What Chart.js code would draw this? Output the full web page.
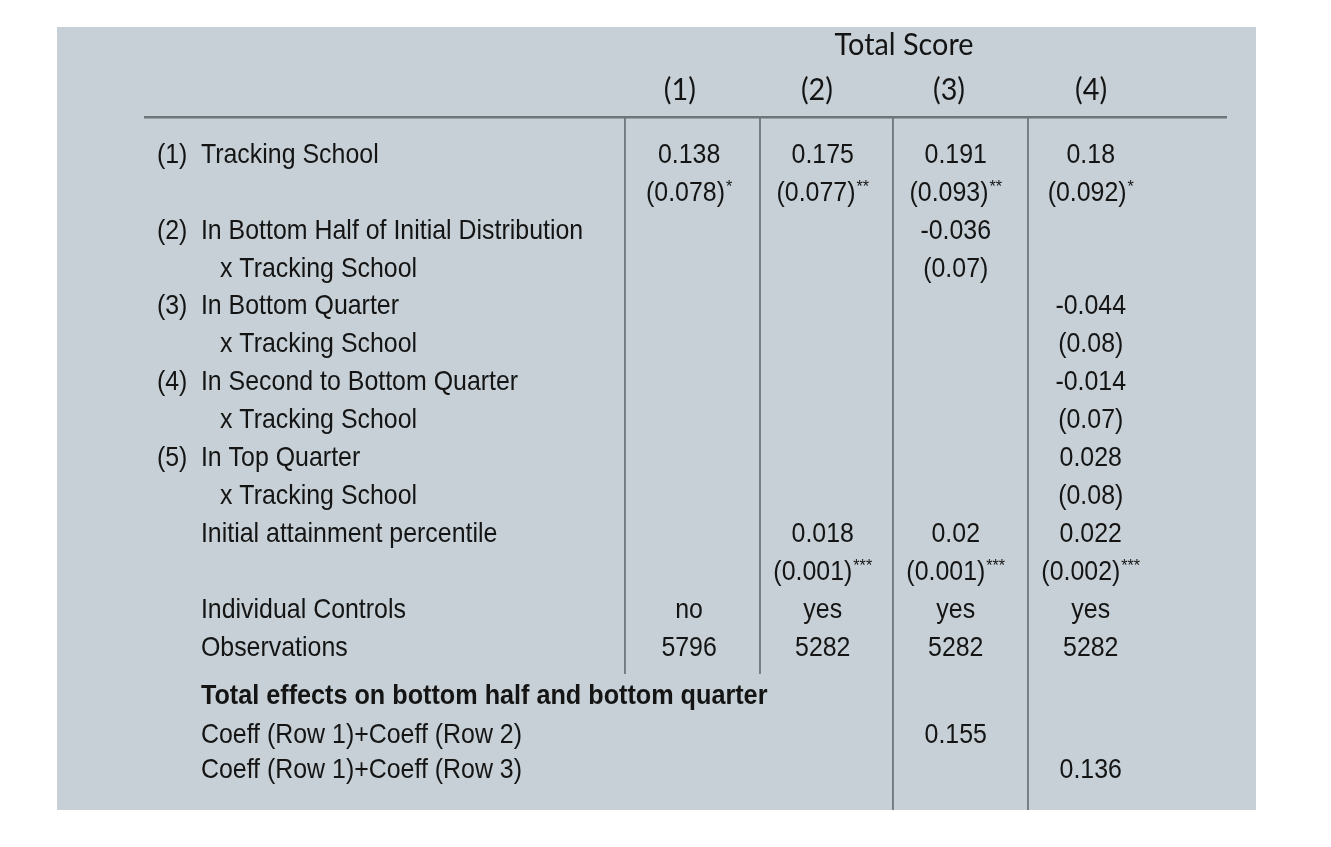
<!DOCTYPE html>
<html>
<head>
<meta charset="utf-8">
<title>Total Score</title>
<script src="https://cdn.jsdelivr.net/npm/chart.js@4.4.0/dist/chart.umd.min.js"></script>
<style>
  html, body { margin: 0; padding: 0; background: #ffffff; }
  #wrap { width: 1331px; height: 847px; }
</style>
</head>
<body>
<div id="wrap"><canvas id="tbl" width="1331" height="847"></canvas></div>
<script>
// ---- table content ----
const groupTitle = 'Total Score';
const colHeaders = ['(1)', '(2)', '(3)', '(4)'];

const rowNums = ['(1)', '', '(2)', '', '(3)', '', '(4)', '', '(5)', '', '', '', '', ''];
const rowLabels = [
    'Tracking School', '',
    'In Bottom Half of Initial Distribution', 'x Tracking School',
    'In Bottom Quarter', 'x Tracking School',
    'In Second to Bottom Quarter', 'x Tracking School',
    'In Top Quarter', 'x Tracking School',
    'Initial attainment percentile', '',
    'Individual Controls',
    'Observations'
];

// one array per regression column, same order as rowLabels
const col1 = ['0.138', '(0.078)*', '', '', '', '', '', '', '', '', '', '', 'no', '5796'];
const col2 = ['0.175', '(0.077)**', '', '', '', '', '', '', '', '', '0.018', '(0.001)***', 'yes', '5282'];
const col3 = ['0.191', '(0.093)**', '-0.036', '(0.07)', '', '', '', '', '', '', '0.02', '(0.001)***', 'yes', '5282'];
const col4 = ['0.18', '(0.092)*', '', '', '-0.044', '(0.08)', '-0.014', '(0.07)', '0.028', '(0.08)', '0.022', '(0.002)***', 'yes', '5282'];

const totalsTitle = 'Total effects on bottom half and bottom quarter';
const totalsLabels = ['Coeff (Row 1)+Coeff (Row 2)', 'Coeff (Row 1)+Coeff (Row 3)'];
const totalsCol3 = ['0.155', ''];
const totalsCol4 = ['', '0.136'];

// ---- layout: x unit = one result column, y unit = one table row ----
const X_MIN = -3.707, X_MAX = 5.174;
const Y_MIN = -3.38, Y_MAX = 17.28;
const colX = [0.975, 1.965, 2.95, 3.95];
const headerX = [0.907, 1.922, 2.9, 3.952];
const titleX = 2.567;
const numX = -2.967, labelX = -2.641, indentX = -2.5;
const titleY = -2.9, headerY = -1.715, ruleY = -1;
const totalsY = [14.27, 15.3, 16.23];
const sepX = [0.5, 1.5, 2.485, 3.485];
const sepEnd = [13.69, 13.69, Y_MAX, Y_MAX];

const BG = '#c6d0d6';
const INK = '#141414';
// the scan is squeezed sideways, so glyphs are drawn tall and narrowed
const BODY = { font: '28px "Liberation Sans", Arial, sans-serif', sx: 0.89 };
const BOLD = { font: 'bold 28px "Liberation Sans", Arial, sans-serif', sx: 0.9 };
const HEAD = { font: '31px Lato, "Open Sans", sans-serif', sx: 0.93 };
const STAR = { font: '17px "Liberation Sans", Arial, sans-serif', sx: 0.95 };

// build a text dataset, skipping empty cells
function textSet(texts, xOf, yOf, style, align) {
    const data = [], keep = [];
    texts.forEach((t, i) => {
        if (t === '') return;
        data.push({ x: xOf(i, t), y: yOf(i) });
        keep.push(t);
    });
    return { type: 'scatter', data: data, texts: keep, style: style, align: align, pointRadius: 0, pointHoverRadius: 0 };
}

function lineSet(points, color, width) {
    return { type: 'line', data: points, showLine: true, borderColor: color, borderWidth: width,
             pointRadius: 0, pointHoverRadius: 0, fill: false, tension: 0 };
}

const datasets = [];
datasets.push(textSet([groupTitle], () => titleX, () => titleY, HEAD, 'center'));
datasets.push(textSet(colHeaders, i => headerX[i], () => headerY, HEAD, 'center'));
datasets.push(textSet(rowNums, () => numX, i => i, BODY, 'left'));
datasets.push(textSet(rowLabels, (i, t) => (t.startsWith('x ') ? indentX : labelX), i => i, BODY, 'left'));
[col1, col2, col3, col4].forEach((col, c) => {
    datasets.push(textSet(col, () => colX[c], i => i, BODY, 'center'));
});
datasets.push(textSet([totalsTitle], () => labelX, () => totalsY[0], BOLD, 'left'));
datasets.push(textSet(totalsLabels, () => labelX, i => totalsY[i + 1], BODY, 'left'));
datasets.push(textSet(totalsCol3, () => colX[2], i => totalsY[i + 1], BODY, 'center'));
datasets.push(textSet(totalsCol4, () => colX[3], i => totalsY[i + 1], BODY, 'center'));

// horizontal rule under the headers, then the column separators
datasets.push(lineSet([{ x: -3.063, y: ruleY }, { x: 4.959, y: ruleY }], '#6d7579', 2.5));
sepX.forEach((x, k) => {
    datasets.push(lineSet([{ x: x, y: ruleY }, { x: x, y: sepEnd[k] }], '#5c6569', 1.5));
});

// gray panel behind the table
const panelPlugin = {
    id: 'panel',
    beforeDraw(chart) {
        const a = chart.chartArea, ctx = chart.ctx;
        ctx.save();
        ctx.fillStyle = BG;
        ctx.fillRect(a.left, a.top, a.right - a.left, a.bottom - a.top);
        ctx.restore();
    }
};

function textWidth(ctx, text, style) {
    ctx.font = style.font;
    return ctx.measureText(text).width * style.sx;
}

function drawText(ctx, text, x, y, style) {
    ctx.save();
    ctx.font = style.font;
    ctx.translate(x, y);
    ctx.scale(style.sx, 1);
    ctx.fillText(text, 0, 0);
    ctx.restore();
}

// draw one cell; trailing stars are drawn small and raised
function drawCell(ctx, text, x, y, style, align) {
    const m = text.match(/^(.*?)(\*+)$/);
    const main = m ? m[1] : text;
    const stars = m ? m[2] : '';
    const wMain = textWidth(ctx, main, style);
    const wStar = stars ? textWidth(ctx, stars, STAR) + 1 : 0;
    let left = x;
    if (align === 'center') left = x - (wMain + wStar) / 2;
    ctx.textAlign = 'left';
    ctx.textBaseline = 'middle';
    drawText(ctx, main, left, y, style);
    if (stars) drawText(ctx, stars, left + wMain + 1, y - 6, STAR);
}

const textPlugin = {
    id: 'cellText',
    afterDatasetsDraw(chart) {
        const ctx = chart.ctx;
        ctx.save();
        ctx.fillStyle = INK;
        chart.data.datasets.forEach((ds, di) => {
            if (!ds.texts) return;
            const meta = chart.getDatasetMeta(di);
            meta.data.forEach((pt, i) => drawCell(ctx, ds.texts[i], pt.x, pt.y, ds.style, ds.align));
        });
        ctx.restore();
    }
};

new Chart(document.getElementById('tbl').getContext('2d'), {
    type: 'scatter',
    data: { datasets: datasets },
    options: {
        responsive: false,
        animation: false,
        events: [],
        layout: { padding: { left: 57, right: 75, top: 27, bottom: 37 } },
        scales: {
            x: { type: 'linear', min: X_MIN, max: X_MAX, display: false },
            y: { type: 'linear', min: Y_MIN, max: Y_MAX, reverse: true, display: false }
        },
        plugins: {
            legend: { display: false },
            tooltip: { enabled: false },
            title: { display: false }
        }
    },
    plugins: [panelPlugin, textPlugin]
});
</script>
</body>
</html>
